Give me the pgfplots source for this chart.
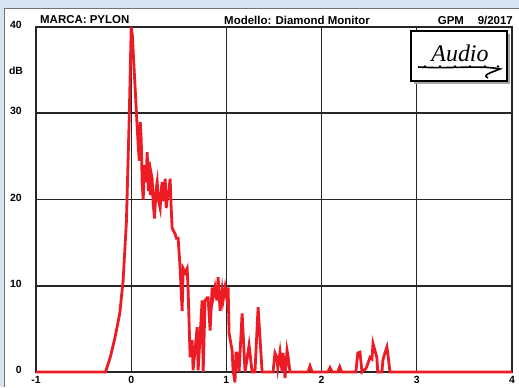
\documentclass[border=0pt]{standalone}
\usepackage{pgfplots}
\pgfplotsset{compat=1.18}
\usepackage{fontspec}
\setmainfont{Liberation Sans}
\newfontfamily\logofont{Liberation Serif}
\definecolor{bgblue}{HTML}{D8E4F1}
\definecolor{curvered}{HTML}{ED1C24}
\pgfplotstableread{
x y
-1 0
-0.27 0
-0.22 1.7
-0.17 4
-0.12 6.8
-0.085 10.6
-0.05 17.5
-0.02 29.8
0 40
0.012 39
0.06 29
0.075 26
0.085 24.5
0.095 29
0.105 27
0.115 22
0.126 20
0.14 24
0.155 22
0.168 25.5
0.18 21
0.189 24.4
0.2 20.5
0.21 23
0.22 22.4
0.231 19.5
0.245 17.8
0.26 21
0.273 22
0.285 20
0.304 19
0.315 21
0.325 22
0.34 19.8
0.357 22.4
0.368 19
0.378 20
0.395 21
0.409 22.4
0.42 19
0.43 16.7
0.462 16
0.475 15.5
0.493 15.5
0.514 12
0.535 7.1
0.546 12
0.568 11.5
0.588 12
0.598 9.4
0.619 1.7
0.64 3.7
0.65 0.2
0.693 5.2
0.703 0.2
0.745 8.3
0.756 0
0.776 8.3
0.797 8.6
0.808 8.6
0.829 4.8
0.85 9.8
0.86 8.6
0.88 9.8
0.90 8.3
0.913 11
0.934 7.1
0.955 9.4
0.965 8.3
0.986 9.8
1.007 8.3
1.018 9.8
1.028 4.5
1.06 2.5
1.07 0.2
1.09 -1.2
1.10 2.2
1.11 2.2
1.133 0
1.165 6.8
1.196 0
1.238 3.1
1.27 0
1.30 0
1.333 7.5
1.375 0
1.49 0
1.51 2.2
1.53 1.7
1.54 0.5
1.563 2.3
1.585 0
1.595 2.2
1.616 -0.7
1.637 2.5
1.648 1.8
1.668 0
1.857 0
1.878 0.7
1.9 0
2.067 0
2.088 0.5
2.11 0
2.17 0
2.19 0.6
2.21 0
2.36 0
2.38 2.2
2.403 2.3
2.424 0
2.466 0.4
2.487 1
2.508 1.7
2.529 1.5
2.54 3.3
2.56 2.5
2.58 1.7
2.59 0
2.634 0
2.644 1.4
2.665 2.2
2.686 2.9
2.697 2.0
2.718 0
4 0
}\curvedata
\begin{document}
\begin{tikzpicture}[x=1bp,y=1bp]
\useasboundingbox (0,0) rectangle (519,387);
\fill[bgblue] (0,0) rectangle (519,387);
\fill[white] (4,0) rectangle (519,379);
\draw[black!55, line width=0.8bp] (4.4,0) -- (4.4,378.6) -- (519,378.6);
\begin{axis}[
  at={(36bp,15bp)}, anchor=south west,
  scale only axis, width=476bp, height=345bp,
  xmin=-1, xmax=4, ymin=0, ymax=40,
  xtick={-1,0,1,2,3,4}, xticklabels={-1,0,1,2,3,4},
  ytick={0,10,20,30,40}, yticklabels={0,10,20,30,40},
  major tick length=0pt,
  xmajorgrids, ymajorgrids,
  x grid style={black!85, line width=0.9bp},
  y grid style={black!85, line width=1.8bp},
  axis line style={black!85, line width=2bp},
  ticklabel style={font=\fontsize{10.5}{12}\selectfont\bfseries},
  xticklabel style={anchor=north, inner sep=0pt, yshift=-4bp},
  yticklabel style={anchor=east, inner sep=0pt, xshift=-14bp, yshift=2bp},
  clip=false,
  axis on top=false,
]
\addplot[curvered, line width=2.8bp, no marks] table[x=x,y=y] {\curvedata};
\end{axis}
\node[font=\fontsize{10.5}{12}\selectfont\bfseries, anchor=center] at (16,316) {dB};
\node[font=\fontsize{11.5}{13}\selectfont\bfseries, anchor=west, inner sep=0pt] at (40,367) {MARCA: PYLON};
\node[font=\fontsize{11.5}{13}\selectfont\bfseries, anchor=center, inner sep=0pt] at (297,367) {Modello: Diamond Monitor};
\node[font=\fontsize{11.5}{13}\selectfont\bfseries, anchor=east, inner sep=0pt] at (513,367) {GPM\hspace{1.2em}9/2017};
% logo box
\fill[black!35] (414,303) rectangle (510,353);
\fill[white] (411,306) rectangle (507,356);
\draw[black, line width=1.2bp] (411,306) rectangle (507,356);
\node[font=\logofont\fontsize{24}{26}\selectfont\itshape, inner sep=0pt] at (460,334) {Audio};
\draw[black, line width=1.6bp] (418,320) .. controls (450,318) and (480,322) .. (500,318) .. controls (490,314) and (482,312) .. (488,309);
\foreach \px in {425,440,455,470,485,498} {\fill[black] (\px,320.5) circle (1.4);}
\end{tikzpicture}
\end{document}
